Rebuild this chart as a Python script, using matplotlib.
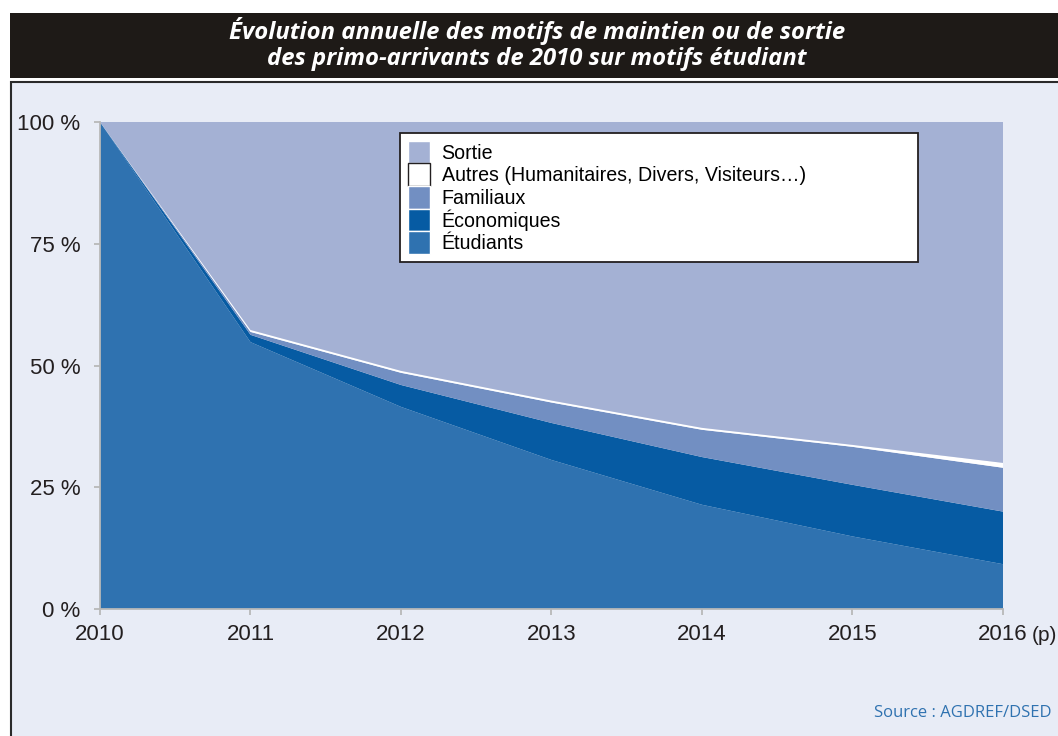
import matplotlib
matplotlib.use("Agg")
import matplotlib.pyplot as plt
from matplotlib.patches import Rectangle, Patch

# data (share of the 2010 cohort, in %)
years = [2010, 2011, 2012, 2013, 2014, 2015, 2016]
etudiants = [100, 54.8, 41.5, 30.6, 21.4, 14.9, 9.2]
economiques = [0, 1.5, 4.5, 7.6, 9.8, 10.6, 10.8]
familiaux = [0, 0.6, 2.5, 4.2, 5.6, 7.8, 9.0]
autres = [0, 0.4, 0.4, 0.4, 0.4, 0.4, 1.0]
sortie = [100 - a - b - c - d for a, b, c, d in zip(etudiants, economiques, familiaux, autres)]

year_labels = ["2010", "2011", "2012", "2013", "2014", "2015", "2016"]
y_ticks = [0, 25, 50, 75, 100]
y_labels = ["0 %", "25 %", "50 %", "75 %", "100 %"]

names = ["Sortie", "Autres (Humanitaires, Divers, Visiteurs…)", "Familiaux",
         "Économiques", "Étudiants"]
colors = {"Sortie": "#a4b1d4", "Autres": "#ffffff", "Familiaux": "#728fc2",
          "Économiques": "#065ba3", "Étudiants": "#2f72b0"}

W, H = 1058, 736
fig = plt.figure(figsize=(W / 100, H / 100), dpi=100)

# dark title bar
fig.patches.append(Rectangle((10 / W, 1 - 78 / H), 1, 65 / H, transform=fig.transFigure,
                             facecolor="#1e1a17", edgecolor="none", zorder=-10))
# light panel with border
fig.patches.append(Rectangle((11 / W, -0.05), 1.1, 1 - 82 / H + 0.05, transform=fig.transFigure,
                             facecolor="#e8ecf6", edgecolor="#2a2a2a", linewidth=1.5,
                             zorder=-10))

fig.text(537 / W, 1 - 31 / H, "Évolution annuelle des motifs de maintien ou de sortie",
         ha="center", va="center", color="white", fontsize=17.2,
         fontfamily="Open Sans", fontweight="bold", fontstyle="italic")
fig.text(537 / W, 1 - 59 / H, "des primo-arrivants de 2010 sur motifs étudiant",
         ha="center", va="center", color="white", fontsize=17.2,
         fontfamily="Open Sans", fontweight="bold", fontstyle="italic")

ax = fig.add_axes([100 / W, (H - 609) / H, 903 / W, 487 / H])
ax.set_facecolor("none")

ax.stackplot(years, etudiants, economiques, familiaux, autres, sortie,
             colors=[colors["Étudiants"], colors["Économiques"], colors["Familiaux"],
                     colors["Autres"], colors["Sortie"]],
             linewidth=0)

ax.set_xlim(2010, 2016)
ax.set_ylim(0, 100)
ax.set_xticks(years)
ax.set_xticklabels(year_labels)
ax.set_yticks(y_ticks)
ax.set_yticklabels(y_labels)
for s in ["top", "right"]:
    ax.spines[s].set_visible(False)
for s in ["left", "bottom"]:
    ax.spines[s].set_color("#b8b8b8")
    ax.spines[s].set_linewidth(1.3)
ax.tick_params(colors="#b8b8b8", labelcolor="#231f20", length=4, width=1.3)
ax.tick_params(axis="x", pad=7)
ax.tick_params(axis="y", pad=10)
for lab in ax.get_xticklabels() + ax.get_yticklabels():
    lab.set_fontfamily("Liberation Sans")
    lab.set_fontsize(16)

# "(p)" after the last year label
ax.annotate("(p)", xy=(2016, 0), xycoords="data", xytext=(29, -32),
            textcoords="offset pixels", ha="left", va="baseline",
            fontsize=15, fontfamily="Liberation Sans", color="#231f20",
            annotation_clip=False)

handles = []
for n in names:
    key = n.split(" ")[0]
    ec = "#231f20" if key == "Autres" else "white"
    handles.append(Patch(facecolor=colors[key], edgecolor=ec, linewidth=1.0))
leg = ax.legend(handles, names, loc="upper left",
                bbox_to_anchor=(300 / 903, (609 - 133) / 487, 518 / 903, 0),
                mode="expand", prop={"family": "Liberation Sans", "size": 14.1},
                handlelength=1.12, handleheight=1.4, labelspacing=0.0,
                handletextpad=0.6, borderpad=0.4, borderaxespad=0,
                fancybox=False, framealpha=1, edgecolor="#231f20")
leg.get_frame().set_linewidth(1.3)

fig.text(1052 / W, 1 - 713 / H, "Source : AGDREF/DSED", ha="right", va="center",
         fontsize=12, fontfamily="Open Sans", color="#2f72b0")

fig.savefig("out.png", dpi=100)
